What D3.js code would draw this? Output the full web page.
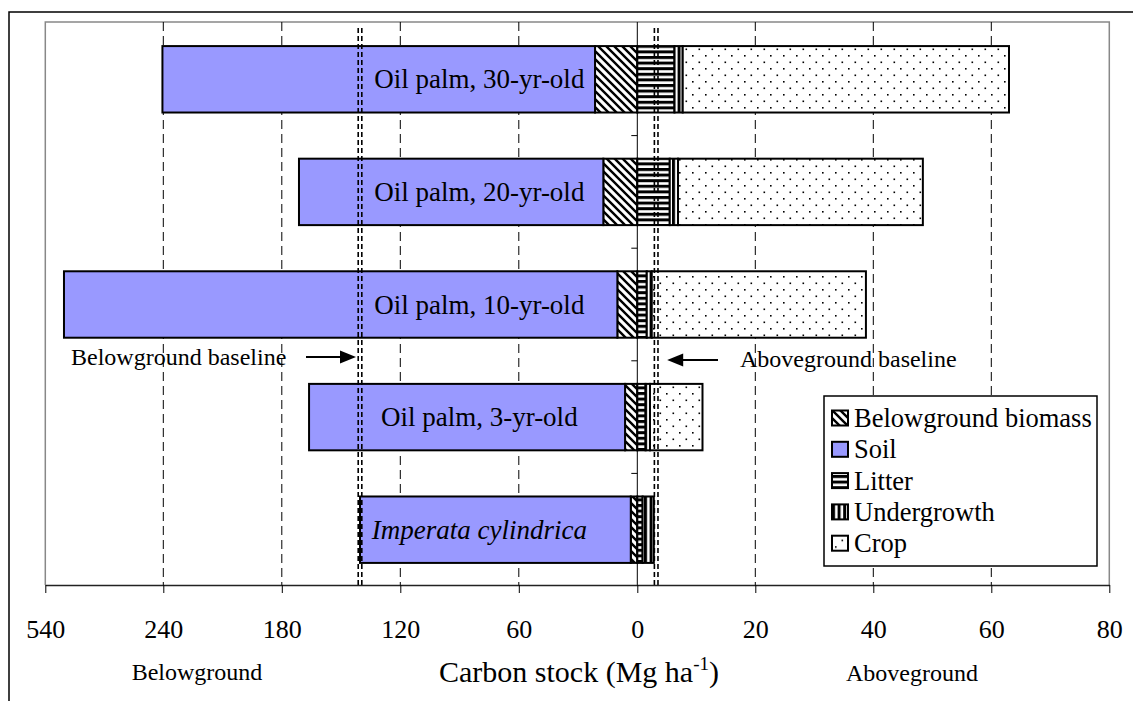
<html>
<head>
	<title>Carbon stock - split bar chart</title>
	<script src="https://d3js.org/d3.v7.min.js"></script>
</head>
<body>
	<style> *{
		margin: 0px;
		padding: 0px;
	}
	body { background: #fff; }
	text { font-family: "Liberation Serif", "Times New Roman", serif; fill: #000; }
	</style>

	<svg id="SVGcanvas" width="1133" height="701" xmlns="http://www.w3.org/2000/svg"></svg>

	<script>
	// categories, top to bottom
	var categories = ["Oil palm, 30-yr-old", "Oil palm, 20-yr-old", "Oil palm, 10-yr-old", "Oil palm, 3-yr-old", "Imperata cylindrica"];

	// belowground pools (Mg/ha), drawn to the left of 0
	var belowBiomass = [21.4, 17.2, 10.1, 6.2, 3.3];
	var soil = [220.8, 154.1, 482.4, 160.0, 137.1];

	// aboveground pools (Mg/ha), drawn to the right of 0
	var litter = [6.3, 5.5, 1.6, 1.4, 0.9];
	var undergrowth = [1.4, 1.4, 0.85, 0.75, 1.9];
	var crop = [55.3, 41.5, 36.3, 8.9, 0];

	// baselines of the Imperata grassland
	var belowBaseline = 140.4;
	var aboveBaseline = 3.2;

	var tickValues = [-540, -240, -180, -120, -60, 0, 20, 40, 60, 80];
	var gridValues = [-240, -180, -120, -60, 20, 40, 60];

	var legendNames = ["Belowground biomass", "Soil", "Litter", "Undergrowth", "Crop"];
	var legendFills = ["url(#hatchBio)", "#9999ff", "url(#hatchLitter)", "url(#hatchUnder)", "url(#dotsCrop)"];

	var plotLeft = 45.3, plotRight = 1109.3, plotTop = 22, plotBottom = 585;

	var svg = d3.select( "#SVGcanvas" );

	// broken axis: 240..540 squeezed into one tick interval
	var x = d3.scaleLinear()
		.domain( [-540, -240, 0, 80] )
		.range( [plotLeft, 163.3, 637.3, plotRight] );

	var y = d3.scaleBand()
		.domain( categories )
		.range( [23, 586] )
		.paddingInner( 0.41 )
		.paddingOuter( 0.205 );

	// patterns
	var defs = svg.append( "defs" );

	var p1 = defs.append( "pattern" ).attr( "id", "hatchBio" )
		.attr( "patternUnits", "userSpaceOnUse" ).attr( "width", 8 ).attr( "height", 8 );
	p1.append( "rect" ).attr( "width", 8 ).attr( "height", 8 ).attr( "fill", "#fff" );
	p1.append( "path" ).attr( "d", "M-4,4 L4,12 M0,0 L8,8 M4,-4 L12,4" )
		.attr( "stroke", "#000" ).attr( "stroke-width", 2.4 );

	var p2 = defs.append( "pattern" ).attr( "id", "hatchLitter" )
		.attr( "patternUnits", "userSpaceOnUse" ).attr( "width", 6 ).attr( "height", 5.6 );
	p2.append( "rect" ).attr( "width", 6 ).attr( "height", 5.6 ).attr( "fill", "#fff" );
	p2.append( "rect" ).attr( "width", 6 ).attr( "height", 3 ).attr( "fill", "#000" );

	var p3 = defs.append( "pattern" ).attr( "id", "hatchUnder" )
		.attr( "patternUnits", "userSpaceOnUse" ).attr( "width", 5.6 ).attr( "height", 6 );
	p3.append( "rect" ).attr( "width", 5.6 ).attr( "height", 6 ).attr( "fill", "#fff" );
	p3.append( "rect" ).attr( "width", 3 ).attr( "height", 6 ).attr( "fill", "#000" );

	var p4 = defs.append( "pattern" ).attr( "id", "dotsCrop" )
		.attr( "patternUnits", "userSpaceOnUse" ).attr( "width", 13 ).attr( "height", 13 );
	p4.append( "rect" ).attr( "width", 13 ).attr( "height", 13 ).attr( "fill", "#fff" );
	p4.append( "rect" ).attr( "x", 3 ).attr( "y", 3 ).attr( "width", 1.6 ).attr( "height", 1.6 ).attr( "fill", "#000" );
	p4.append( "rect" ).attr( "x", 9.5 ).attr( "y", 9.5 ).attr( "width", 1.6 ).attr( "height", 1.6 ).attr( "fill", "#000" );

	// outer chart frame
	svg.append( "rect" )
		.attr( "x", 9 ).attr( "y", 12 ).attr( "width", 1200 ).attr( "height", 800 )
		.attr( "fill", "none" ).attr( "stroke", "#000" ).attr( "stroke-width", 1.5 );

	// plot area frame (grey)
	svg.append( "path" )
		.attr( "d", "M" + plotLeft + "," + plotBottom + " V" + plotTop + " H" + plotRight + " V" + plotBottom )
		.attr( "fill", "none" ).attr( "stroke", "#888" ).attr( "stroke-width", 1.5 );

	// dashed gridlines
	svg.append( "g" ).selectAll( "line" )
		.data( gridValues )
		.enter().append( "line" )
		.attr( "x1", function ( d ) { return x( d ); } )
		.attr( "x2", function ( d ) { return x( d ); } )
		.attr( "y1", plotTop )
		.attr( "y2", plotBottom )
		.attr( "stroke", "#000" ).attr( "stroke-width", 1 )
		.attr( "stroke-dasharray", "9,5" );

	// build stacked segments
	var segments = [];
	categories.forEach( function ( c, i ) {
		segments.push( { cat: c, x0: 0, x1: -belowBiomass[i], fill: "url(#hatchBio)" } );
		segments.push( { cat: c, x0: -belowBiomass[i], x1: -belowBiomass[i] - soil[i], fill: "#9999ff" } );
		var a = litter[i], b = a + undergrowth[i], e = b + crop[i];
		segments.push( { cat: c, x0: 0, x1: a, fill: "url(#hatchLitter)" } );
		segments.push( { cat: c, x0: a, x1: b, fill: "url(#hatchUnder)" } );
		if ( crop[i] > 0 ) segments.push( { cat: c, x0: b, x1: e, fill: "url(#dotsCrop)" } );
	} );

	svg.append( "g" ).selectAll( "rect" )
		.data( segments )
		.enter().append( "rect" )
		.attr( "x", function ( d ) { return Math.min( x( d.x0 ), x( d.x1 ) ); } )
		.attr( "width", function ( d ) { return Math.abs( x( d.x1 ) - x( d.x0 ) ); } )
		.attr( "y", function ( d ) { return y( d.cat ); } )
		.attr( "height", y.bandwidth() )
		.attr( "fill", function ( d ) { return d.fill; } )
		.attr( "stroke", "#000" ).attr( "stroke-width", 2 );

	// vertical axis at zero with category ticks
	svg.append( "line" )
		.attr( "x1", x( 0 ) ).attr( "x2", x( 0 ) )
		.attr( "y1", plotTop ).attr( "y2", plotBottom )
		.attr( "stroke", "#000" ).attr( "stroke-width", 1 );
	svg.append( "g" ).selectAll( "line" )
		.data( categories.slice( 1 ) )
		.enter().append( "line" )
		.attr( "x1", x( 0 ) - 6 ).attr( "x2", x( 0 ) )
		.attr( "y1", function ( d ) { return y( d ) - y.step() * y.paddingInner() / 2; } )
		.attr( "y2", function ( d ) { return y( d ) - y.step() * y.paddingInner() / 2; } )
		.attr( "stroke", "#000" ).attr( "stroke-width", 1 );

	// baselines: double dashed lines
	[ -belowBaseline, aboveBaseline ].forEach( function ( v ) {
		[ -1.8, 1.8 ].forEach( function ( off ) {
			svg.append( "line" )
				.attr( "x1", x( v ) + off ).attr( "x2", x( v ) + off )
				.attr( "y1", 28 ).attr( "y2", plotBottom )
				.attr( "stroke", "#000" ).attr( "stroke-width", 1.6 )
				.attr( "stroke-dasharray", "5,3" );
		} );
	} );

	// bar labels
	svg.append( "g" ).selectAll( "text" )
		.data( categories )
		.enter().append( "text" )
		.attr( "x", x( -80 ) )
		.attr( "y", function ( d ) { return y( d ) + y.bandwidth() / 2 + 9; } )
		.attr( "text-anchor", "middle" )
		.style( "font-size", "27px" )
		.style( "font-style", function ( d, i ) { return i == 4 ? "italic" : "normal"; } )
		.text( function ( d ) { return d; } );

	// x axis
	var axis = d3.axisBottom( x )
		.tickValues( tickValues )
		.tickSize( 8 )
		.tickSizeOuter( 0 )
		.tickFormat( function ( d ) { return Math.abs( d ); } );

	var gAxis = svg.append( "g" )
		.attr( "transform", "translate(0," + plotBottom + ")" )
		.call( axis );
	gAxis.select( ".domain" ).attr( "stroke", "#222" ).attr( "stroke-width", 1.5 );
	gAxis.selectAll( ".tick line" ).attr( "stroke", "#000" ).attr( "stroke-width", 1 );
	gAxis.selectAll( ".tick text" )
		.attr( "y", 53 ).attr( "dy", null )
		.style( "font-family", "'Liberation Serif', 'Times New Roman', serif" )
		.style( "font-size", "26px" )
		.attr( "fill", "#000" );

	// axis titles
	svg.append( "text" ).attr( "x", 197 ).attr( "y", 680 ).attr( "text-anchor", "middle" )
		.style( "font-size", "24px" ).text( "Belowground" );
	svg.append( "text" ).attr( "x", 912 ).attr( "y", 681 ).attr( "text-anchor", "middle" )
		.style( "font-size", "24px" ).text( "Aboveground" );
	var title = svg.append( "text" ).attr( "x", 439 ).attr( "y", 682 )
		.style( "font-size", "30px" );
	title.append( "tspan" ).text( "Carbon stock (Mg ha" );
	title.append( "tspan" ).attr( "dy", -12 ).style( "font-size", "19px" ).text( "-1" );
	title.append( "tspan" ).attr( "dy", 12 ).text( ")" );

	// baseline annotations
	svg.append( "text" ).attr( "x", 71 ).attr( "y", 365 )
		.style( "font-size", "24px" ).text( "Belowground baseline" );
	svg.append( "text" ).attr( "x", 740 ).attr( "y", 367 )
		.style( "font-size", "24px" ).text( "Aboveground baseline" );

	function arrow( xFrom, xTo, yy ) {
		var dir = xTo > xFrom ? 1 : -1;
		svg.append( "line" )
			.attr( "x1", xFrom ).attr( "x2", xTo - dir * 12 )
			.attr( "y1", yy ).attr( "y2", yy )
			.attr( "stroke", "#000" ).attr( "stroke-width", 2 );
		svg.append( "path" )
			.attr( "d", "M" + xTo + "," + yy + " L" + ( xTo - dir * 16 ) + "," + ( yy - 6.5 ) + " L" + ( xTo - dir * 16 ) + "," + ( yy + 6.5 ) + " Z" )
			.attr( "fill", "#000" );
	}
	arrow( 306, x( -belowBaseline ) - 4, 357 );
	arrow( 718, x( aboveBaseline ) + 11, 360 );

	// legend
	var legend = svg.append( "g" );
	legend.append( "rect" )
		.attr( "x", 824 ).attr( "y", 396 ).attr( "width", 273 ).attr( "height", 170 )
		.attr( "fill", "#fff" ).attr( "stroke", "#000" ).attr( "stroke-width", 1.5 );
	var items = legend.selectAll( "g.item" )
		.data( legendNames )
		.enter().append( "g" )
		.attr( "transform", function ( d, i ) { return "translate(832," + ( 418 + i * 31.3 ) + ")"; } );
	items.append( "rect" )
		.attr( "x", 0 ).attr( "y", -7.5 ).attr( "width", 16 ).attr( "height", 15 )
		.attr( "fill", function ( d, i ) { return legendFills[i]; } )
		.attr( "stroke", "#000" ).attr( "stroke-width", 2 );
	items.append( "text" )
		.attr( "x", 22 ).attr( "y", 9 )
		.style( "font-size", "26.5px" )
		.text( function ( d ) { return d; } );
	</script>

</body>
</html>
